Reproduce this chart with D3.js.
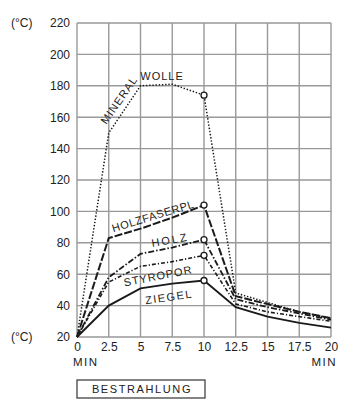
<!DOCTYPE html>
<html><head><meta charset="utf-8">
<script src="https://cdn.jsdelivr.net/npm/d3@7"></script>
<style>
body{margin:0;background:#fff;}
text{font-family:"Liberation Sans",Arial,sans-serif;fill:#222;}
</style></head>
<body><svg id="c" width="344" height="410"></svg>
<script>
const minutes = [0, 2.5, 5, 7.5, 10, 12.5, 15, 17.5, 20];
const mineralwolle = [20, 150, 180, 181, 174, 48, 42, 36, 32];
const holzfaserpl  = [20, 83, 89, 96, 104, 46, 41, 36, 32];
const holz         = [20, 58, 73, 77, 82, 44, 39, 35, 31];
const styropor     = [20, 55, 65, 68, 72, 41, 36, 33, 30];
const ziegel       = [20, 40, 51, 54, 56, 39, 33, 29, 26];
const seriesNames = ["MINERALWOLLE", "HOLZFASERPL", "HOLZ", "STYROPOR", "ZIEGEL"];
const yTicks = [20, 40, 60, 80, 100, 120, 140, 160, 180, 200, 220];
const xTicks = [0, 2.5, 5, 7.5, 10, 12.5, 15, 17.5, 20];
const xTickLabels = ["0", "2.5", "5", "7.5", "10", "12.5", "15", "17.5", "20"];
const unitLabel = "(°C)";
const xUnit = "MIN";
const boxLabel = "BESTRAHLUNG";

const svg = d3.select("#c");
const x = d3.scaleLinear().domain([0, 20]).range([77, 331]);
const y = d3.scaleLinear().domain([20, 220]).range([337, 23]);
const FONT = "Liberation Sans, Arial, sans-serif";

// grid
const grid = svg.append("g");
grid.selectAll("line.h").data(yTicks).join("line")
  .attr("x1", x(0)).attr("x2", x(20)).attr("y1", d => y(d)).attr("y2", d => y(d))
  .attr("stroke", "#999").attr("stroke-width", 1.4);
grid.selectAll("line.v").data(xTicks).join("line")
  .attr("y1", y(20)).attr("y2", y(220)).attr("x1", d => x(d)).attr("x2", d => x(d))
  .attr("stroke", "#999").attr("stroke-width", 1.4);

// axes (labels only)
const ya = svg.append("g").attr("transform", `translate(${x(0)},0)`)
  .call(d3.axisLeft(y).tickValues(yTicks).tickSize(0).tickPadding(7));
ya.select(".domain").remove();
ya.selectAll("text").attr("font-size", 12).attr("font-family", FONT).attr("fill", "#222");

const xa = svg.append("g").attr("transform", `translate(0,${y(20)})`)
  .call(d3.axisBottom(x).tickValues(xTicks).tickSize(0).tickPadding(5)
    .tickFormat((d, i) => xTickLabels[i]));
xa.select(".domain").remove();
xa.selectAll("text").attr("font-size", 12).attr("font-family", FONT).attr("fill", "#222");

svg.append("text").attr("x", 11).attr("y", y(220)).attr("dy", "0.35em").attr("font-size", 12).text(unitLabel);
svg.append("text").attr("x", 11).attr("y", y(20)).attr("dy", "0.35em").attr("font-size", 12).text(unitLabel);
svg.append("text").attr("x", 73).attr("y", 366).attr("font-size", 11.5).attr("letter-spacing", 1.5).text(xUnit);
svg.append("text").attr("x", 337).attr("y", 366).attr("text-anchor", "end").attr("font-size", 11.5).attr("letter-spacing", 1.5).text(xUnit);

// series
const data = [mineralwolle, holzfaserpl, holz, styropor, ziegel];
const styles = [
  {dash: "1.4,1.8", w: 1.5},
  {dash: "8,2", w: 2.0},
  {dash: "6,2,1.5,2", w: 1.8},
  {dash: "4,2,1.2,2", w: 1.6},
  {dash: null, w: 1.9}
];
const line = d3.line().x((d, i) => x(minutes[i])).y(d => y(d));
data.forEach((vals, k) => {
  svg.append("path").datum(vals).attr("d", line)
    .attr("fill", "none").attr("stroke", "#1a1a1a")
    .attr("stroke-width", styles[k].w)
    .attr("stroke-dasharray", styles[k].dash);
  svg.append("circle").attr("cx", x(minutes[4])).attr("cy", y(vals[4])).attr("r", 3)
    .attr("fill", "#fff").attr("stroke", "#1a1a1a").attr("stroke-width", 1.3);
});

// series labels
function lab(t, cx, cy, ang, ls, fs) {
  svg.append("text").attr("transform", `translate(${cx},${cy}) rotate(${ang})`)
    .attr("text-anchor", "middle").attr("dy", "0.35em").attr("font-size", fs)
    .attr("letter-spacing", ls).text(t);
}
lab("MINERAL", 119, 100, -55, 1, 11);
lab("WOLLE", 162, 76, 0, 1, 11);
lab("HOLZFASERPL", 153, 216, -17, 0.6, 11);
lab("HOLZ", 170, 240, -10, 2, 11);
lab("STYROPOR", 158, 276, -11, 1, 11);
lab("ZIEGEL", 169, 297, -8, 1.5, 11);

// box
svg.append("rect").attr("x", 77).attr("y", 380).attr("width", 128).attr("height", 18)
  .attr("fill", "none").attr("stroke", "#333").attr("stroke-width", 1.2);
svg.append("text").attr("x", 142).attr("y", 389).attr("dy", "0.35em").attr("text-anchor", "middle")
  .attr("font-size", 11).attr("letter-spacing", 1.6).text(boxLabel);
</script></body></html>
